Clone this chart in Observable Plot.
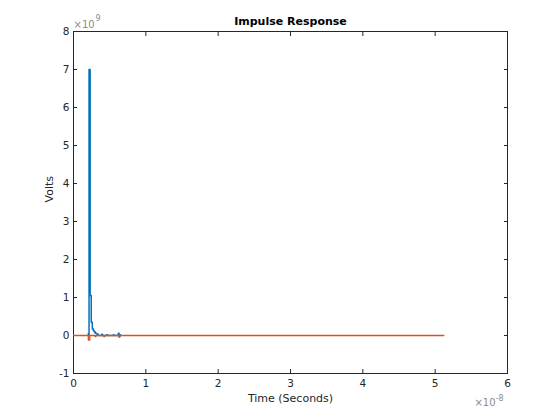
<!DOCTYPE html>
<html>
<head>
<meta charset="utf-8">
<script src="https://cdn.jsdelivr.net/npm/d3@7"></script>
<script src="https://cdn.jsdelivr.net/npm/@observablehq/plot@0.6"></script>
<style>
  html, body { margin: 0; padding: 0; background: #fff; }
  #chart { width: 560px; height: 420px; }
</style>
</head>
<body>
<div id="chart"></div>
<script>
// Blue series: time (s) and voltage (V)
const blueTime = [2.0e-9, 2.05e-9, 2.1e-9, 2.15e-9, 2.3e-9, 2.45e-9, 2.6e-9, 2.75e-9, 2.85e-9, 3.0e-9, 3.2e-9, 3.4e-9, 3.9e-9, 4.0e-9, 4.6e-9, 4.7e-9, 5.5e-9, 5.6e-9, 6.2e-9, 6.3e-9, 6.4e-9, 6.5e-9];
const blueVolts = [0, 0.05e9, 0, 7.0e9, 1.05e9, 0.35e9, 0.17e9, 0.13e9, 0.1e9, 0.06e9, 0.04e9, 0, 0.03e9, 0, 0.02e9, 0, 0.02e9, 0, 0.06e9, -0.03e9, 0.02e9, 0];
// Orange series
const orangeTime = [0, 2.0e-9, 2.05e-9, 2.25e-9, 3.0e-9, 3.1e-9, 4.2e-9, 4.3e-9, 6.3e-9, 6.4e-9, 5.12e-8];
const orangeVolts = [0, 0, -0.12e9, 0, -0.03e9, 0, -0.03e9, 0, -0.04e9, 0, 0];

const xTicks = [0, 1e-8, 2e-8, 3e-8, 4e-8, 5e-8, 6e-8];
const yTicks = [-1e9, 0, 1e9, 2e9, 3e9, 4e9, 5e9, 6e9, 7e9, 8e9];

const blue = blueTime.map((t, i) => ({t, v: blueVolts[i]}));
const orange = orangeTime.map((t, i) => ({t, v: orangeVolts[i]}));

const axisColor = "#262626";
const font = "DejaVu Sans, sans-serif";

const chart = Plot.plot({
  width: 560,
  height: 420,
  marginLeft: 73,
  marginRight: 53,
  marginTop: 31,
  marginBottom: 47,
  style: {fontFamily: font, fontSize: "10px", color: axisColor, background: "#fff", overflow: "visible"},
  x: {domain: [0, 6e-8]},
  y: {domain: [-1e9, 8e9]},
  marks: [
    Plot.frame({stroke: axisColor, strokeWidth: 1}),
    Plot.axisX(xTicks, {anchor: "bottom", tickSize: -4, tickPadding: 10, tickFormat: d => String(Math.round(d / 1e-8)), label: null, fontSize: 10.5, stroke: axisColor}),
    Plot.text(["Time (Seconds)"], {frameAnchor: "bottom", dy: 28, text: d => d, fontSize: 11, fill: axisColor}),
    Plot.axisX(xTicks, {anchor: "top", tickSize: -4, tickFormat: () => "", label: null, stroke: axisColor}),
    Plot.axisY(yTicks, {anchor: "left", tickSize: -4, tickPadding: 8, tickFormat: d => String(Math.round(d / 1e9)), label: null, fontSize: 10.5, stroke: axisColor}),
    Plot.text(["Volts"], {frameAnchor: "left", dx: -24, rotate: -90, text: d => d, fontSize: 11, fill: axisColor}),
    Plot.axisY(yTicks, {anchor: "right", tickSize: -4, tickFormat: () => "", label: null, stroke: axisColor}),
    Plot.line(blue, {x: "t", y: "v", curve: "step-after", stroke: "#0072BD", strokeWidth: 1.5}),
    Plot.line(orange, {x: "t", y: "v", curve: "step-after", stroke: "#D95319", strokeWidth: 1.3}),
    Plot.text(["Impulse Response"], {frameAnchor: "top", dy: -14, text: d => d, fontWeight: "bold", fontSize: 11, fill: "#000"}),
    Plot.text(["×10"], {frameAnchor: "top-left", dy: -11, dx: 0, textAnchor: "start", text: d => d, fontSize: 10, fill: "#8c8c8c"}),
    Plot.text(["9"], {frameAnchor: "top-left", dy: -16, dx: 22, textAnchor: "start", text: d => d, fontSize: 8, fill: "#8c8c8c"}),
    Plot.text(["×10"], {frameAnchor: "bottom-right", dy: 32, dx: -12, textAnchor: "end", text: d => d, fontSize: 10, fill: "#8c8c8c"}),
    Plot.text(["-8"], {frameAnchor: "bottom-right", dy: 27, dx: -12, textAnchor: "start", text: d => d, fontSize: 8, fill: "#8c8c8c"})
  ]
});

document.getElementById("chart").appendChild(chart);
</script>
</body>
</html>
